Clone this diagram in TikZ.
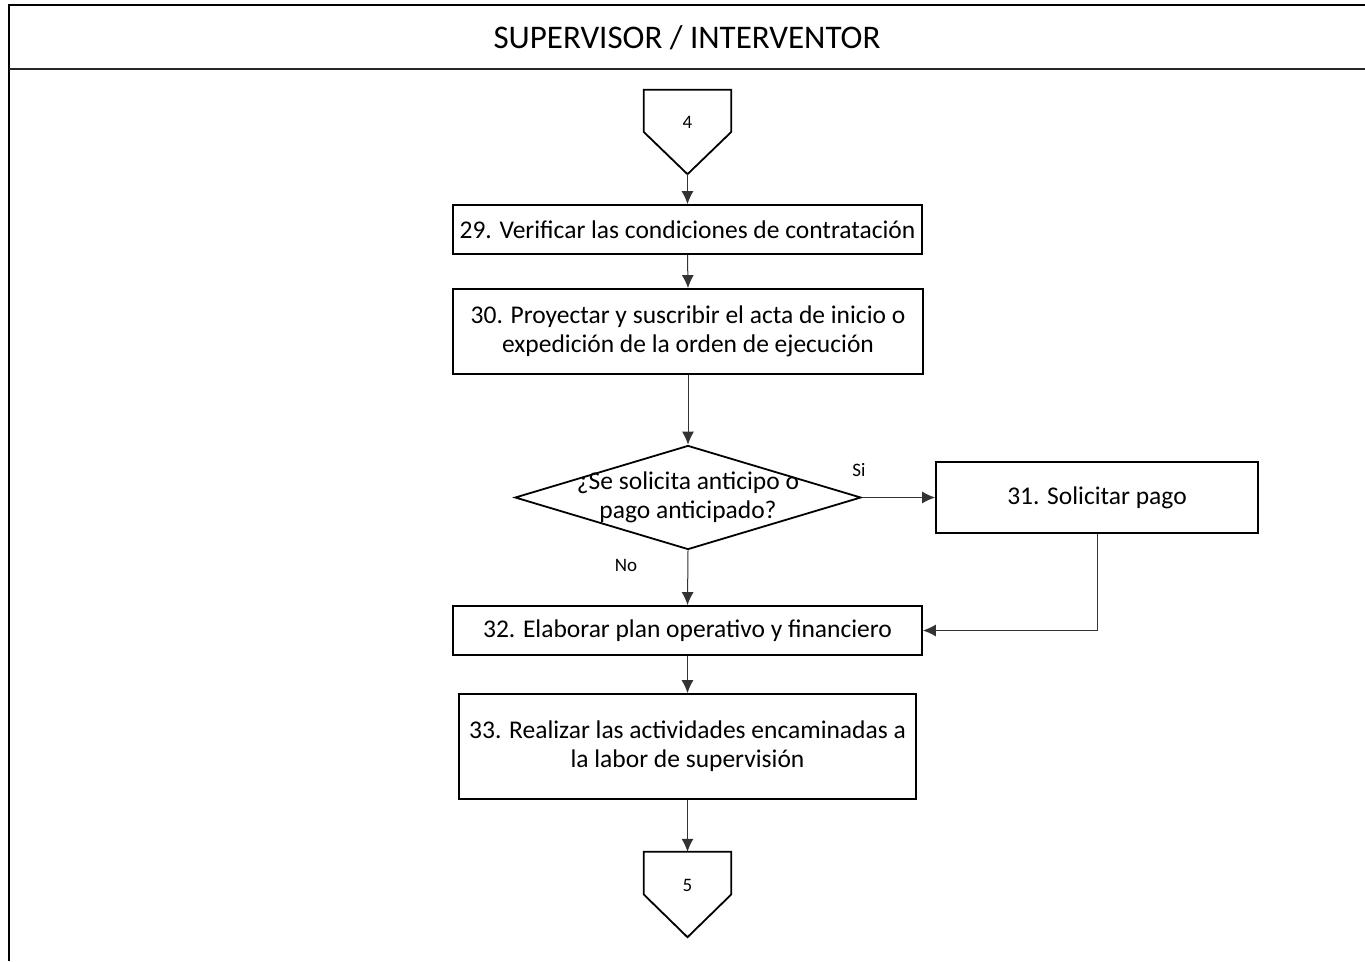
\documentclass[tikz,border=0pt]{standalone}
\usepackage{fontspec}
\setmainfont{Carlito}
\usetikzlibrary{arrows.meta,shapes.geometric}
\begin{document}
\begin{tikzpicture}[x=1pt,y=-1pt,
  stepbox/.style={draw=black,line width=1.8pt,fill=white,inner sep=0pt,align=center,font=\fontsize{25.5}{29}\selectfont},
  conn/.style={draw=black!80,line width=1pt,-{Latex[length=13pt,width=12pt]}},
  small/.style={font=\fontsize{19}{22}\selectfont,inner sep=0pt},
  offpage/.style={draw=black,line width=1.8pt,fill=white}
]
\useasboundingbox (0,0) rectangle (1365,961);
% frame
\draw[line width=2pt] (9,961) -- (9,5) -- (1367,5);
\draw[line width=2pt,draw=black!85] (9,69) -- (1367,69);
\node[font=\fontsize{33}{38}\selectfont,inner sep=0pt] (hdr) at (687,38) {SUPERVISOR / INTERVENTOR};

% off-page connector 4
\node[minimum width=87pt,minimum height=84pt,inner sep=0pt] (c4) at (687.5,132) {};
\draw[offpage] (c4.north west) -- (c4.north east) -- (c4.east) -- (c4.south) -- (c4.west) -- cycle;
\node[small] (t4) at ([yshift=10pt]c4.center) {4};

% boxes
\node[stepbox,minimum width=469pt,minimum height=49pt] (b29) at (687.5,229.5) {29. Verificar las condiciones de contratación};
\node[stepbox,minimum width=470pt,minimum height=85pt] (b30) at (688,331.5) {30. Proyectar y suscribir el acta de inicio o\\expedición de la orden de ejecución};
\node[diamond,draw=black,line width=1.8pt,fill=white,minimum width=346pt,minimum height=104pt,inner sep=0pt] (d) at (688,497.5) {};
\node[align=center,inner sep=0pt,font=\fontsize{25.5}{29}\selectfont] (dt) at (688,497) {¿Se solicita anticipo o\\pago anticipado?};
\node[stepbox,minimum width=322pt,minimum height=71pt] (b31) at (1097,497.5) {31. Solicitar pago};
\node[stepbox,minimum width=469pt,minimum height=49pt] (b32) at (687.5,630.5) {32. Elaborar plan operativo y financiero};
\node[stepbox,minimum width=457pt,minimum height=105pt] (b33) at (687.5,746.5) {33. Realizar las actividades encaminadas a\\la labor de supervisión};

% off-page connector 5
\node[minimum width=87pt,minimum height=85pt,inner sep=0pt] (c5) at (687.5,894.5) {};
\draw[offpage] (c5.north west) -- (c5.north east) -- (c5.east) -- (c5.south) -- (c5.west) -- cycle;
\node[small] (t5) at ([yshift=9pt]c5.center) {5};

% labels
\node[small] (si) at (859,470) {Si};
\node[small] (no) at (626,565) {No};

% connectors
\draw[conn] (c4.south) -- (b29.north);
\draw[conn] (b29.south) -- (b30.north);
\draw[conn] (b30.south) -- (d.north);
\draw[conn] (d.east) -- (b31.west);
\draw[conn] (d.south) -- (b32.north);
\draw[conn] (b31.south) |- (b32.east);
\draw[conn] (b32.south) -- (b33.north);
\draw[conn] (b33.south) -- (c5.north);
\end{tikzpicture}
\end{document}
